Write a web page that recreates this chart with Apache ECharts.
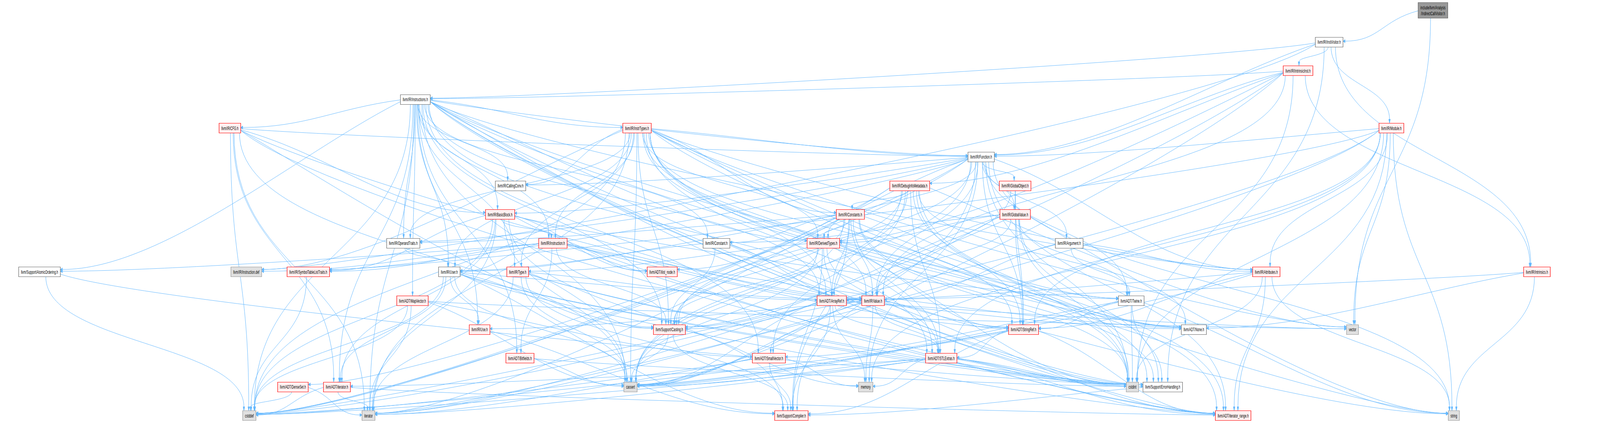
<!DOCTYPE html>
<html lang="en">
  <head>
    <meta charset="UTF-8" />
    <title>IndirectCallVisitor.h include graph</title>
    <script src="https://cdn.jsdelivr.net/npm/echarts@6/dist/echarts.min.js"></script>
    <style>
      html,
      body {
        margin: 0;
        padding: 0;
        background: #fff;
        overflow: hidden;
      }
      #chart {
        width: 100vw;
        height: 100vh;
      }
    </style>
  </head>
  <body>
    <div id="chart"></div>
    <script>
      // nodes of the include graph
      const nodeIds = [
        "ICV", "InstVisitor", "IntrinsicInst", "Instructions", "CFG", "InstrTypes", "Module",
        "Function", "CallingConv", "DIM", "GlobalObject", "BasicBlock", "Constants", "GlobalValue",
        "OperandTraits", "Instruction", "Constant", "DerivedTypes", "Argument", "AtomicOrdering",
        "InstructionDef", "SymTab", "User", "Type", "ilist_node", "Attributes", "Intrinsics",
        "MapVector", "ArrayRef", "Value", "Twine", "Use", "Casting", "StringRef", "None", "vector",
        "Bitfields", "SmallVector", "STLExtras", "DenseSet", "iterator_h", "cassert", "memory",
        "cstdint", "ErrorHandling", "cstddef", "iterator", "Compiler", "iterator_range", "string",
      ];
      const nodeLabels = [
        "include/llvm/Analysis\n/IndirectCallVisitor.h", "llvm/IR/InstVisitor.h", "llvm/IR/IntrinsicInst.h",
        "llvm/IR/Instructions.h", "llvm/IR/CFG.h", "llvm/IR/InstrTypes.h", "llvm/IR/Module.h",
        "llvm/IR/Function.h", "llvm/IR/CallingConv.h", "llvm/IR/DebugInfoMetadata.h", "llvm/IR/GlobalObject.h",
        "llvm/IR/BasicBlock.h", "llvm/IR/Constants.h", "llvm/IR/GlobalValue.h", "llvm/IR/OperandTraits.h",
        "llvm/IR/Instruction.h", "llvm/IR/Constant.h", "llvm/IR/DerivedTypes.h", "llvm/IR/Argument.h",
        "llvm/Support/AtomicOrdering.h", "llvm/IR/Instruction.def", "llvm/IR/SymbolTableListTraits.h",
        "llvm/IR/User.h", "llvm/IR/Type.h", "llvm/ADT/ilist_node.h", "llvm/IR/Attributes.h",
        "llvm/IR/Intrinsics.h", "llvm/ADT/MapVector.h", "llvm/ADT/ArrayRef.h", "llvm/IR/Value.h",
        "llvm/ADT/Twine.h", "llvm/IR/Use.h", "llvm/Support/Casting.h", "llvm/ADT/StringRef.h",
        "llvm/ADT/None.h", "vector", "llvm/ADT/Bitfields.h", "llvm/ADT/SmallVector.h", "llvm/ADT/STLExtras.h",
        "llvm/ADT/DenseSet.h", "llvm/ADT/iterator.h", "cassert", "memory", "cstdint",
        "llvm/Support/ErrorHandling.h", "cstddef", "iterator", "llvm/Support/Compiler.h",
        "llvm/ADT/iterator_range.h", "string",
      ];
      // horizontal place of each node along the graph (read on a 7816 wide picture)
      const nodeX = [
        7000, 6493, 6341, 2029, 1123, 3112, 6797, 4793, 2494, 4444, 4959, 2443, 4154, 4959, 1970, 2701,
        3500, 4022, 5223, 193, 1203, 1506, 2195, 2529, 3235, 6186, 7508, 2015, 4063, 4265, 5526, 2343,
        3270, 5000, 5832, 6607, 2540, 3756, 4598, 1431, 1646, 3080, 4229, 5532, 5680, 1218, 1800, 3866,
        6024, 7102,
      ];
      // layer (rank) of each node, top to bottom
      const nodeRank = [
        -0.1, 1, 2, 3, 4, 4, 4, 5, 6, 6, 6, 7, 7, 7, 8, 8, 8, 8, 8, 9, 9, 9, 9, 9, 9, 9, 9, 10, 10, 10,
        10, 11, 11, 11, 11, 11, 12, 12, 12, 13, 13, 13, 13, 13, 13, 14, 14, 14, 14, 14,
      ];
      // root = file itself, doc = fully shown, red = truncated, sys = system header
      const nodeKind = [
        "root", "doc", "red", "doc", "red", "red", "red", "doc", "doc", "red", "red", "red", "red", "red",
        "doc", "red", "doc", "red", "doc", "doc", "sys", "red", "doc", "red", "red", "red", "red", "red",
        "red", "red", "doc", "red", "red", "red", "doc", "sys", "red", "red", "red", "red", "red", "sys",
        "sys", "sys", "doc", "sys", "sys", "red", "red", "sys",
      ];

      // includes: [file, "included files"]
      const includeLists = [
        ["ICV", "InstVisitor vector"],
        ["InstVisitor", "Function Instructions IntrinsicInst Intrinsics Module ErrorHandling InstructionDef"],
        ["IntrinsicInst", "DIM DerivedTypes Function Instructions Intrinsics Value Casting cassert cstdint"],
        ["Instructions", "ArrayRef Bitfields MapVector None STLExtras SmallVector StringRef Twine iterator_h iterator_range Attributes BasicBlock CallingConv CFG Constant DerivedTypes Function InstrTypes Instruction OperandTraits Type Use User Value AtomicOrdering Casting ErrorHandling cassert cstddef cstdint iterator"],
        ["CFG", "iterator_h iterator_range BasicBlock Function Value Casting cassert cstddef iterator"],
        ["InstrTypes", "ArrayRef None STLExtras StringRef Twine iterator_range Attributes CallingConv Constants DerivedTypes Function Instruction OperandTraits Type User Value Casting ErrorHandling cassert cstddef cstdint iterator string vector InstructionDef"],
        ["Module", "STLExtras StringRef iterator_range Attributes Function SymTab cstddef cstdint iterator memory string vector"],
        ["Function", "DenseSet StringRef Twine ilist_node iterator_range Argument Attributes BasicBlock CallingConv DerivedTypes GlobalObject GlobalValue OperandTraits SymTab Value Casting Compiler cassert cstddef cstdint memory string"],
        ["DIM", "ArrayRef None STLExtras SmallVector StringRef iterator_range Constants Casting cassert cstddef cstdint iterator vector"],
        ["GlobalObject", "StringRef GlobalValue Value"],
        ["BasicBlock", "Twine ilist_node iterator_h iterator_range Instruction SymTab Value Compiler cassert cstddef iterator"],
        ["Constants", "ArrayRef None STLExtras Constant DerivedTypes OperandTraits User Value Casting Compiler ErrorHandling cassert cstddef cstdint"],
        ["GlobalValue", "StringRef Twine Constant DerivedTypes Value Casting ErrorHandling cassert cstdint string"],
        ["OperandTraits", "User"],
        ["Instruction", "Bitfields None StringRef ilist_node SymTab User Value AtomicOrdering Casting cstdint InstructionDef"],
        ["Constant", "User Value Casting ErrorHandling"],
        ["DerivedTypes", "ArrayRef STLExtras StringRef Type Casting Compiler cassert cstdint"],
        ["Argument", "Twine Attributes Value"],
        ["AtomicOrdering", "cstddef cstdint"],
        ["SymTab", "cstddef"],
        ["User", "iterator_h iterator_range Use Value Casting Compiler ErrorHandling cassert cstddef cstdint"],
        ["Type", "ArrayRef Casting Compiler ErrorHandling cassert cstdint iterator"],
        ["Attributes", "ArrayRef StringRef iterator_range cassert cstdint string"],
        ["Intrinsics", "ArrayRef None string"],
        ["MapVector", "SmallVector cassert cstddef iterator vector"],
        ["ArrayRef", "None SmallVector STLExtras Compiler cassert cstddef iterator memory vector"],
        ["Value", "STLExtras StringRef iterator_range Use Casting cassert iterator memory"],
        ["Twine", "SmallVector StringRef ErrorHandling cassert cstdint string"],
        ["Use", "Compiler"],
        ["Casting", "Compiler cassert memory"],
        ["StringRef", "STLExtras iterator_range Compiler cassert cstddef string"],
        ["Bitfields", "cassert cstdint"],
        ["SmallVector", "Compiler cassert cstddef iterator memory"],
        ["STLExtras", "iterator_h iterator_range ErrorHandling cassert cstddef cstdint iterator memory"],
        ["DenseSet", "cstddef iterator"],
        ["iterator_h", "iterator_range cstddef iterator"],
        ["ErrorHandling", "Compiler"],
      ];

      const REF_W = 7816;
      const FONT = '13.33px "Liberation Sans", Arial, sans-serif';
      const kindStyle = {
        root: { fill: "#999999", stroke: "#666666" },
        doc: { fill: "#ffffff", stroke: "#666666" },
        red: { fill: "#fff0f0", stroke: "#ff0000" },
        sys: { fill: "#e0e0e0", stroke: "#999999" },
      };
      const EDGE = "#63b8ff";

      const ctx = document.createElement("canvas").getContext("2d");
      ctx.font = FONT;
      const boxW = nodeLabels.map(
        (l) => Math.max(...l.split("\n").map((s) => ctx.measureText(s).width)) + 22
      );
      const boxH = nodeLabels.map((l) => (l.includes("\n") ? 40 : 25));

      const edges = [];
      includeLists.forEach(([src, tgts]) => {
        const s = nodeIds.indexOf(src);
        tgts.split(" ").forEach((t) => {
          const ti = nodeIds.indexOf(t);
          if (s >= 0 && ti >= 0) edges.push([s, ti]);
        });
      });

      const clamp = (v, a, b) => Math.max(a, Math.min(b, v));

      // svg keeps the very wide picture in one piece
      const chart = echarts.init(document.getElementById("chart"), null, { renderer: "svg" });
      // the window may be narrower than the picture: squeeze everything sideways
      const sx = chart.getWidth() / REF_W;

      // node box in unsqueezed units
      function nodePos(api, i) {
        const p = api.coord([nodeX[i], nodeRank[i]]);
        return { x: p[0] / sx, y: p[1], w: boxW[i], h: boxH[i] };
      }

      function renderEdge(params, api) {
        const e = edges[params.dataIndex];
        const s = nodePos(api, e[0]);
        const t = nodePos(api, e[1]);
        const dx = t.x - s.x;
        const dy = t.y - s.y;
        const sign = dx >= 0 ? 1 : -1;
        const flat = Math.abs(dx) > 4 * Math.max(dy, 1);
        let x0, y0, c1x, c1y, x3, y3, c2x, c2y;
        if (flat) {
          x0 = s.x + (sign * s.w) / 2;
          y0 = s.y + clamp(dy * 0.02, -6, 6);
          c1x = x0 + sign * Math.min(Math.abs(dx) * 0.35, 500);
          c1y = y0 + dy * 0.3;
          x3 = t.x - (sign * t.w) / 2;
          y3 = t.y + clamp(-dy * 0.02, -6, 6);
          c2x = x3 - sign * Math.min(Math.abs(dx) * 0.35, 500);
          c2y = y3;
        } else {
          x0 = s.x + clamp(dx * 0.03, -(s.w / 2 - 6), s.w / 2 - 6);
          y0 = s.y + s.h / 2;
          x3 = t.x - clamp(dx * 0.03, -(t.w / 2 - 6), t.w / 2 - 6);
          y3 = t.y - t.h / 2;
          const k = (y3 - y0) * 0.5;
          c1x = x0;
          c1y = y0 + k;
          c2x = x3;
          c2y = y3 - k;
        }
        let ux = x3 - c2x;
        let uy = y3 - c2y;
        const len = Math.hypot(ux, uy) || 1;
        ux /= len;
        uy /= len;
        const bx = x3 - ux * 10;
        const by = y3 - uy * 10;
        return {
          type: "group",
          children: [
            {
              type: "bezierCurve",
              shape: {
                x1: x0 * sx, y1: y0,
                cpx1: c1x * sx, cpy1: c1y,
                cpx2: c2x * sx, cpy2: c2y,
                x2: bx * sx, y2: by,
              },
              style: { stroke: EDGE, lineWidth: 1, fill: null },
            },
            {
              type: "polygon",
              shape: {
                points: [
                  [x3 * sx, y3],
                  [(bx - uy * 4) * sx, by + ux * 4],
                  [(bx + uy * 4) * sx, by - ux * 4],
                ],
              },
              style: { fill: EDGE, stroke: EDGE, lineWidth: 1 },
            },
          ],
        };
      }

      function renderNode(params, api) {
        const i = params.dataIndex;
        const p = nodePos(api, i);
        const st = kindStyle[nodeKind[i]];
        return {
          type: "group",
          children: [
            {
              type: "rect",
              shape: {
                x: (p.x - p.w / 2) * sx,
                y: Math.round(p.y - p.h / 2) + 0.5,
                width: p.w * sx,
                height: p.h,
              },
              style: { fill: st.fill, stroke: st.stroke, lineWidth: 1.2 },
            },
            {
              type: "text",
              x: p.x * sx,
              y: p.y,
              scaleX: sx,
              style: {
                text: nodeLabels[i],
                x: 0,
                y: 0,
                align: "center",
                verticalAlign: "middle",
                font: FONT,
                lineHeight: 15,
                fill: "#000",
              },
            },
          ],
        };
      }

      chart.setOption({
        animation: false,
        backgroundColor: "#fff",
        grid: { left: 0, right: 0, top: 33.4, bottom: 4.3 },
        xAxis: { type: "value", min: 0, max: REF_W, show: false },
        yAxis: { type: "value", min: 0, max: 14.2, inverse: true, show: false },
        series: [
          {
            type: "custom",
            name: "includes",
            clip: false,
            silent: true,
            z: 1,
            data: edges.map((e) => [nodeX[e[0]], nodeRank[e[0]]]),
            renderItem: renderEdge,
          },
          {
            type: "custom",
            name: "files",
            clip: false,
            z: 2,
            data: nodeX.map((x, i) => [x, nodeRank[i]]),
            renderItem: renderNode,
          },
        ],
      });
    </script>
  </body>
</html>
